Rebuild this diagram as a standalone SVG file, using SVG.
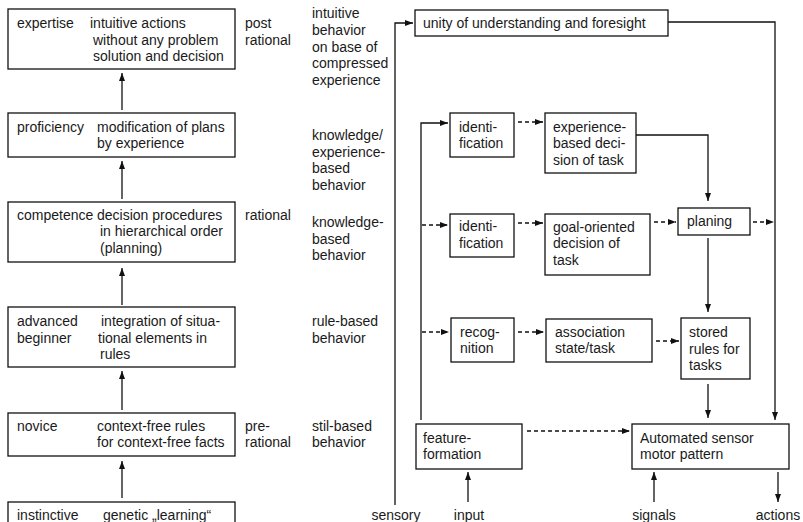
<svg xmlns="http://www.w3.org/2000/svg" width="803" height="522" viewBox="0 0 803 522">
<defs>
<style>
text{font-family:"Liberation Sans",Arial,sans-serif;font-size:14px;fill:#1a1a1a}
.box{fill:#fff;stroke:#111;stroke-width:1.3}
.c{fill:none;stroke:#111;stroke-width:1.3}
.d{fill:none;stroke:#111;stroke-width:1.3;stroke-dasharray:4 3}
.m{text-anchor:middle}
</style>
<marker id="ah" viewBox="0 0 8 6" refX="8" refY="3" markerWidth="8" markerHeight="6" markerUnits="userSpaceOnUse" orient="auto"><path d="M0,0 L8,3 L0,6 z" fill="#111"/></marker>
</defs>
<rect width="803" height="522" fill="#fff"/>

<g id="expertise"><rect class="box" x="8" y="9" width="227" height="60"/>
<text x="17" y="28">expertise</text><text x="90" y="28">intuitive actions</text><text x="93" y="45">without any problem</text><text x="93" y="61">solution and decision</text></g>
<g id="proficiency"><rect class="box" x="8" y="113" width="227" height="44"/>
<text x="17" y="132">proficiency</text><text x="97" y="132">modification of plans</text><text x="97" y="148">by experience</text></g>
<g id="competence"><rect class="box" x="8" y="202" width="227" height="60"/>
<text x="17" y="220">competence</text><text x="97" y="220">decision procedures</text><text x="100" y="236">in hierarchical order</text><text x="100" y="253">(planning)</text></g>
<g id="advanced"><rect class="box" x="8" y="307" width="227" height="60"/>
<text x="17" y="326">advanced</text><text x="17" y="343">beginner</text><text x="101" y="326">integration of situa-</text><text x="98" y="343">tional elements  in</text><text x="100" y="359">rules</text></g>
<g id="novice"><rect class="box" x="8" y="413" width="227" height="43"/>
<text x="17" y="431">novice</text><text x="97" y="431">context-free rules</text><text x="97" y="447">for context-free facts</text></g>
<g id="instinctive"><rect class="box" x="8" y="502" width="227" height="40"/>
<text x="17" y="520">instinctive</text><text x="103" y="520">genetic „learning“</text></g>

<g id="labels-mid">
<text x="245" y="28">post</text><text x="245" y="45">rational</text>
<text x="245" y="220">rational</text>
<text x="245" y="431">pre-</text><text x="245" y="447">rational</text>
<text x="312" y="18">intuitive</text><text x="312" y="35">behavior</text><text x="312" y="52">on base of</text><text x="312" y="68">compressed</text><text x="312" y="85">experience</text>
<text x="312" y="140">knowledge/</text><text x="312" y="157">experience-</text><text x="312" y="173">based</text><text x="312" y="190">behavior</text>
<text x="312" y="227">knowledge-</text><text x="312" y="244">based</text><text x="312" y="260">behavior</text>
<text x="312" y="326">rule-based</text><text x="312" y="343">behavior</text>
<text x="312" y="431">stil-based</text><text x="312" y="447">behavior</text>
</g>

<g id="unity"><rect class="box" x="415" y="10" width="253" height="26"/><text x="423" y="28">unity of understanding and foresight</text></g>
<g id="identification1"><rect class="box" x="450" y="113" width="64" height="44"/><text x="459" y="132">identi-</text><text x="459" y="148">fication</text></g>
<g id="experience-decision"><rect class="box" x="545" y="113" width="91" height="60"/><text x="553" y="132">experience-</text><text x="553" y="148">based deci-</text><text x="553" y="165">sion of task</text></g>
<g id="identification2"><rect class="box" x="450" y="214" width="64" height="43"/><text x="459" y="231">identi-</text><text x="459" y="248">fication</text></g>
<g id="goal-decision"><rect class="box" x="545" y="214" width="105" height="61"/><text x="553" y="232">goal-oriented</text><text x="553" y="248">decision of</text><text x="553" y="265">task</text></g>
<g id="planing"><rect class="box" x="678" y="208" width="72" height="27"/><text x="687" y="226">planing</text></g>
<g id="recognition"><rect class="box" x="451" y="318" width="63" height="44"/><text x="460" y="337">recog-</text><text x="460" y="353">nition</text></g>
<g id="association"><rect class="box" x="546" y="319" width="106" height="43"/><text x="555" y="337">association</text><text x="555" y="353">state/task</text></g>
<g id="stored"><rect class="box" x="681" y="318" width="69" height="61"/><text x="689" y="337">stored</text><text x="689" y="354">rules for</text><text x="689" y="370">tasks</text></g>
<g id="feature"><rect class="box" x="416" y="424" width="106" height="45"/><text x="423" y="443">feature-</text><text x="423" y="459">formation</text></g>
<g id="automated"><rect class="box" x="632" y="424" width="157" height="45"/><text x="640" y="443">Automated sensor</text><text x="640" y="459">motor pattern</text></g>

<g id="io-labels">
<text class="m" x="396" y="520">sensory</text><text class="m" x="469" y="520">input</text><text class="m" x="654" y="520">signals</text><text class="m" x="778" y="520">actions</text>
</g>

<g id="connectors">
<path class="c" d="M122,110 L122,73" marker-end="url(#ah)"/>
<path class="c" d="M122,199 L122,161" marker-end="url(#ah)"/>
<path class="c" d="M122,305 L122,268" marker-end="url(#ah)"/>
<path class="c" d="M122,410 L122,371" marker-end="url(#ah)"/>
<path class="c" d="M122,498 L122,461" marker-end="url(#ah)"/>
<path class="c" d="M395,505 L395,23 L413,23" marker-end="url(#ah)"/>
<path class="c" d="M421,420 L421,123 L448,123" marker-end="url(#ah)"/>
<path class="d" d="M422,225 L448,225" marker-end="url(#ah)"/>
<path class="d" d="M422,332 L449,332" marker-end="url(#ah)"/>
<path class="d" d="M518,122 L543,122" marker-end="url(#ah)"/>
<path class="d" d="M518,223 L543,223" marker-end="url(#ah)"/>
<path class="d" d="M518,332 L544,332" marker-end="url(#ah)"/>
<path class="d" d="M654,222 L676,222" marker-end="url(#ah)"/>
<path class="d" d="M753,222 L774,222" marker-end="url(#ah)"/>
<path class="d" d="M656,341 L679,341" marker-end="url(#ah)"/>
<path class="c" d="M636,135 L708,135 L708,201" marker-end="url(#ah)"/>
<path class="c" d="M708,238 L708,312" marker-end="url(#ah)"/>
<path class="c" d="M708,384 L708,418" marker-end="url(#ah)"/>
<path class="c" d="M668,22 L775,22 L775,420" marker-end="url(#ah)"/>
<path class="d" d="M527,431 L630,431" marker-end="url(#ah)"/>
<path class="c" d="M468,502 L468,472" marker-end="url(#ah)"/>
<path class="c" d="M654,502 L654,472" marker-end="url(#ah)"/>
<path class="c" d="M778,472 L778,502" marker-end="url(#ah)"/>
</g>
</svg>
